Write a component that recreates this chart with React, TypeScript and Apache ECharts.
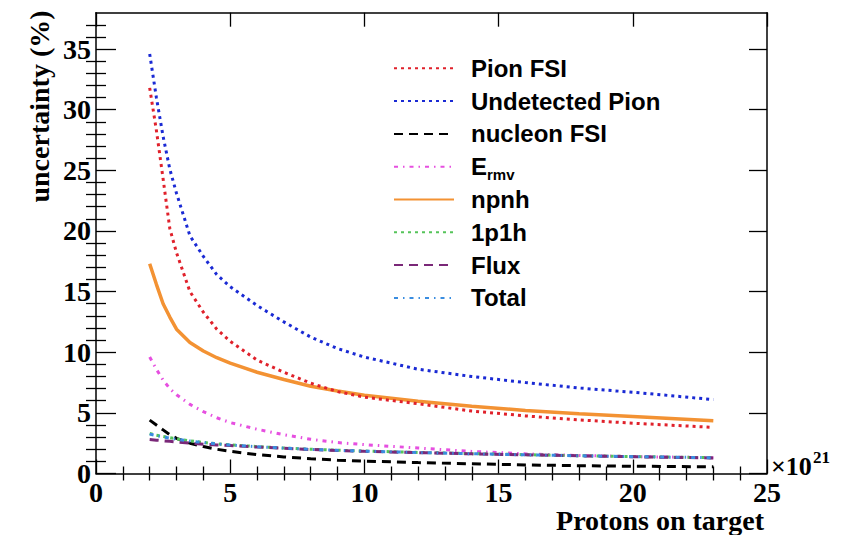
import React, { useEffect, useRef } from 'react';
import * as echarts from 'echarts';

// Protons on target (x10^21)
const pot = [2, 2.25, 2.5, 2.75, 3, 3.5, 4, 4.5, 5, 6, 7, 8, 9, 10, 12, 14, 16, 18, 20, 23];

// uncertainty (%)
const pionFSI = [31.8, 28.3, 24.3, 20.2, 18.2, 15.0, 13.3, 11.9, 10.9, 9.35, 8.35, 7.45, 6.75, 6.3, 5.75, 5.15, 4.75, 4.42, 4.15, 3.8];
const undetectedPion = [34.6, 31.0, 27.8, 25.1, 23.1, 19.6, 17.9, 16.4, 15.4, 13.85, 12.5, 11.25, 10.3, 9.6, 8.6, 8.0, 7.5, 7.05, 6.7, 6.1];
const nucleonFSI = [4.4, 4.0, 3.6, 3.2, 2.9, 2.5, 2.22, 2.0, 1.83, 1.55, 1.37, 1.22, 1.1, 1.02, 0.9, 0.8, 0.71, 0.64, 0.6, 0.55];
const ermv = [9.6, 8.6, 7.7, 7.0, 6.5, 5.7, 5.1, 4.6, 4.2, 3.65, 3.2, 2.82, 2.55, 2.38, 2.1, 1.82, 1.62, 1.48, 1.4, 1.3];
const npnh = [17.3, 15.6, 14.0, 12.9, 11.9, 10.8, 10.1, 9.55, 9.1, 8.35, 7.75, 7.2, 6.8, 6.45, 5.95, 5.55, 5.2, 4.92, 4.7, 4.35];
const onep1h = [3.3, 3.15, 3.05, 2.95, 2.85, 2.7, 2.56, 2.45, 2.36, 2.22, 2.1, 2.0, 1.92, 1.85, 1.74, 1.64, 1.55, 1.47, 1.4, 1.3];
const flux = [2.8, 2.75, 2.7, 2.65, 2.6, 2.5, 2.42, 2.36, 2.3, 2.18, 2.08, 1.98, 1.9, 1.83, 1.72, 1.62, 1.54, 1.46, 1.38, 1.28];
const total = [3.25, 3.12, 3.02, 2.92, 2.83, 2.68, 2.55, 2.44, 2.35, 2.21, 2.09, 1.99, 1.91, 1.84, 1.73, 1.63, 1.54, 1.46, 1.39, 1.3];

// ticks
const xMajor = [0, 5, 10, 15, 20, 25];
const xMinor = [1, 2, 3, 4, 6, 7, 8, 9, 11, 12, 13, 14, 16, 17, 18, 19, 21, 22, 23, 24];
const yMajor = [0, 5, 10, 15, 20, 25, 30, 35];
const yMinor = [1, 2, 3, 4, 6, 7, 8, 9, 11, 12, 13, 14, 16, 17, 18, 19, 21, 22, 23, 24, 26, 27, 28, 29, 31, 32, 33, 34, 36, 37];

const legendNames = ['Pion FSI', 'Undetected Pion', 'nucleon FSI', 'Ermv', 'npnh', '1p1h', 'Flux', 'Total'];

const SERIF = '"Liberation Serif", "DejaVu Serif", serif';
const SANS = '"Liberation Sans", Arial, Helvetica, sans-serif';

export default function App() {
  const ref = useRef<HTMLDivElement>(null);
  useEffect(() => {
    if (!ref.current) return;
    const chart = echarts.init(ref.current, null, { renderer: 'svg' });
    const axisLine = { show: true, onZero: false, lineStyle: { color: '#000', width: 1.5 } };
    const tickLine = { color: '#000', width: 1.3 };
    const label = { fontFamily: SERIF, fontWeight: 'bold' as const, fontSize: 28, color: '#000' };

    const xAx = (position: string, major: boolean, length: number, labels: boolean) => ({
      type: 'value', position, min: 0, max: 25,
      axisLine: major ? axisLine : { show: false },
      axisTick: { show: true, inside: true, length, lineStyle: tickLine, customValues: major ? xMajor : xMinor },
      axisLabel: labels ? { ...label, margin: 5, customValues: xMajor } : { show: false },
      splitLine: { show: false },
    });
    const yAx = (position: string, major: boolean, length: number, labels: boolean) => ({
      type: 'value', position, min: 0, max: 38,
      axisLine: major ? axisLine : { show: false },
      axisTick: { show: true, inside: true, length, lineStyle: tickLine, customValues: major ? yMajor : yMinor },
      axisLabel: labels ? { ...label, margin: 5, customValues: yMajor } : { show: false },
      splitLine: { show: false },
    });

    const mk = (name: string, data: number[], color: string, width: number, type: any, z = 2) => ({
      name, type: 'line', xAxisIndex: 0, yAxisIndex: 0, symbol: 'none', z,
      data: pot.map((x, i) => [x, data[i]]),
      lineStyle: { color, width, type },
      itemStyle: { color },
    });

    const dotted = [3, 4];
    const dashed = [9, 6];
    const dashDot = [4, 5, 1.5, 5];

    const base = { fontFamily: SANS, fontWeight: 'bold' as const, fontSize: 24, color: '#000', lineHeight: 30 };
    const txt = { ...base, padding: [0, 0, 0, 12] };

    chart.setOption({
      animation: false,
      backgroundColor: '#fff',
      grid: { left: 96, right: 83, top: 12.7, bottom: 61.5 },
      xAxis: [
        xAx('bottom', true, 14, true),
        xAx('bottom', false, 7, false),
        xAx('top', true, 14, false),
        xAx('top', false, 7, false),
      ],
      yAxis: [
        yAx('left', true, 20, true),
        yAx('left', false, 10, false),
        yAx('right', true, 18, false),
        yAx('right', false, 10, false),
      ],
      legend: {
        orient: 'vertical', left: 388, top: 48.3, itemGap: 2.8, itemWidth: 60, itemHeight: 14,
        itemStyle: { opacity: 0 },
        textStyle: {
          ...base,
          rich: {
            n: txt,
            e: txt,
            s: { fontFamily: SANS, fontWeight: 'bold', fontSize: 15, color: '#000', lineHeight: 14, verticalAlign: 'bottom' },
          },
        },
        formatter: (n: string) => (n === 'Ermv' ? '{e|E}{s|rmv}' : '{n|' + n + '}'),
        data: legendNames,
      },
      series: [
        mk('Pion FSI', pionFSI, '#e0212b', 3, dotted, 3),
        mk('Undetected Pion', undetectedPion, '#1a2ad4', 3, dotted, 3),
        mk('nucleon FSI', nucleonFSI, '#000000', 3, dashed),
        mk('Ermv', ermv, '#e64fe0', 3, dashDot),
        mk('npnh', npnh, '#f39233', 3.5, 'solid', 2),
        mk('1p1h', onep1h, '#55c45a', 3, dotted),
        mk('Flux', flux, '#7a2878', 3, dashed),
        mk('Total', total, '#3a8de0', 3, dashDot),
      ],
      graphic: [
        {
          type: 'text', x: 39, y: 106.5, rotation: Math.PI / 2,
          style: { text: 'uncertainty (%)', fontFamily: SERIF, fontWeight: 'bold', fontSize: 28, fill: '#000', align: 'center', verticalAlign: 'middle' },
        },
        {
          type: 'text', x: 764, y: 520,
          style: { text: 'Protons on target', fontFamily: SERIF, fontWeight: 'bold', fontSize: 28, fill: '#000', align: 'right', verticalAlign: 'middle' },
        },
        {
          type: 'text', x: 771, y: 466,
          style: { text: '×10', fontFamily: SERIF, fontWeight: 'bold', fontSize: 26, fill: '#000', align: 'left', verticalAlign: 'middle' },
        },
        {
          type: 'text', x: 813, y: 457.5,
          style: { text: '21', fontFamily: SERIF, fontWeight: 'bold', fontSize: 17, fill: '#000', align: 'left', verticalAlign: 'middle' },
        },
      ],
    });
    return () => chart.dispose();
  }, []);
  return <div ref={ref} style={{ position: 'fixed', left: 0, top: 0, width: 850, height: 535 }} />;
}
